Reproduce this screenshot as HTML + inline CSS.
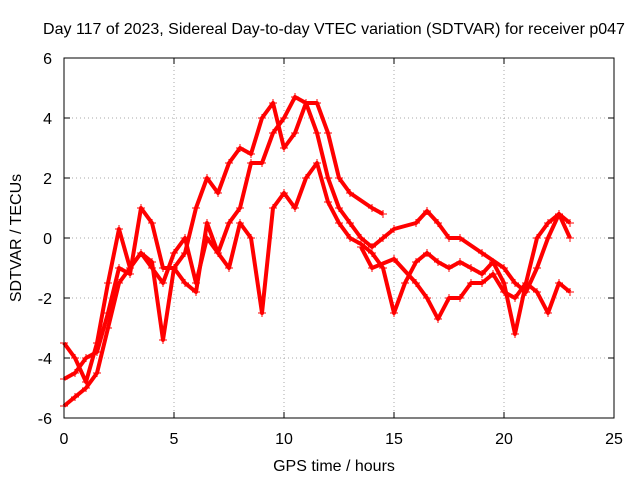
<!DOCTYPE html>
<html><head><meta charset="utf-8"><style>
body{margin:0;background:#fff;}
svg text{font-family:"Liberation Sans",sans-serif;font-size:16px;fill:#000;}
</style></head><body>
<svg id="chart" width="640" height="480">
<text x="334" y="34" text-anchor="middle">Day 117 of 2023, Sidereal Day-to-day VTEC variation (SDTVAR) for receiver p047</text>
<text x="334" y="471" text-anchor="middle">GPS time / hours</text>
<text transform="translate(21,238) rotate(-90)" text-anchor="middle">SDTVAR / TECUs</text>
<g id="grid"></g><g id="ticks"></g><g id="series"></g>
<rect x="64" y="58" width="550" height="360" fill="none" stroke="#000" stroke-width="1"/>
</svg>
<script>
const xTicks=[0,5,10,15,20,25];
const yTicks=[-6,-4,-2,0,2,4,6];
const trackA_t=[0,0.5,1,1.5,2,2.5,3,3.5,4,4.5,5,5.5,6,6.5,7,7.5,8,8.5,9,9.5,10,10.5,11,11.5,12,12.5,13,13.5,14,14.5,15,16,16.5,17,17.5,18,19,20,20.5,21,21.5,22,22.5,23];
const trackA_v=[-5.6,-5.3,-5,-4.5,-3,-1.5,-1,-0.5,-1,-1.5,-0.5,0,-1.5,0,-0.5,0.5,1,2.5,2.5,3.5,4,4.7,4.5,3.5,2,1,0.5,0,-0.3,0,0.3,0.5,0.9,0.5,0,0,-0.5,-1,-1.5,-1.8,-1,0,0.8,0.5];
const trackB_t=[0,0.5,1,1.5,2,2.5,3,3.5,4,4.5,5,5.5,6,6.5,7,7.5,8,8.5,9,9.5,10,10.5,11,11.5,12,12.5,13,14,14.5];
const trackB_v=[-4.7,-4.5,-4,-3.8,-2.5,-1,-1.2,1,0.5,-1,-1,-0.5,1,2,1.5,2.5,3,2.8,4,4.5,3,3.5,4.5,4.5,3.5,2,1.5,1,0.8];
const trackC_t=[0,0.5,1,1.5,2,2.5,3,3.5,4,4.5,5,5.5,6,6.5,7,7.5,8,8.5,9,9.5,10,10.5,11,11.5,12,12.5,13,13.5,14,14.5,15,15.5,16,16.5,17,17.5,18,18.5,19,19.5,20,20.5,21,21.5,22,22.5,23];
const trackC_v=[-3.5,-4,-4.8,-3.5,-1.5,0.3,-1,-0.5,-0.8,-3.4,-1,-1.5,-1.8,0.5,-0.5,-1,0.5,0,-2.5,1,1.5,1,2,2.5,1.2,0.5,0,-0.2,-0.5,-1,-2.5,-1.5,-0.8,-0.5,-0.8,-1,-0.8,-1,-1.2,-0.8,-1.5,-3.2,-1.5,0,0.5,0.8,0];
const trackD_t=[13.5,14,15,16,16.5,17,17.5,18,18.5,19,19.5,20,20.5,21,21.5,22,22.5,23];
const trackD_v=[-0.3,-1,-0.7,-1.5,-2,-2.7,-2,-2,-1.5,-1.5,-1.2,-1.8,-2,-1.5,-1.8,-2.5,-1.5,-1.8];
const X=h=>64+h*22, Y=v=>238-v*30;
const NS="http://www.w3.org/2000/svg";
const grid=document.getElementById('grid'),ticks=document.getElementById('ticks'),ser=document.getElementById('series');
function mk(tag,attrs,parent){const e=document.createElementNS(NS,tag);for(const k in attrs)e.setAttribute(k,attrs[k]);parent.appendChild(e);return e;}
xTicks.forEach(t=>{
  if(t>0&&t<25){const g=mk('line',{x1:X(t),x2:X(t),y1:58,y2:418,stroke:'#aaa','stroke-dasharray':'1,3'},grid);
  
  }
  mk('line',{x1:X(t),x2:X(t),y1:418,y2:412,stroke:'#000'},ticks);
  mk('line',{x1:X(t),x2:X(t),y1:58,y2:64,stroke:'#000'},ticks);
  const l=mk('text',{x:X(t),y:444,'text-anchor':'middle'},ticks);l.textContent=t;
  
  
});
yTicks.forEach(t=>{
  if(t>-6&&t<6){const g=mk('line',{x1:64,x2:614,y1:Y(t),y2:Y(t),stroke:'#aaa','stroke-dasharray':'1,3'},grid);
  
  }
  mk('line',{x1:64,x2:70,y1:Y(t),y2:Y(t),stroke:'#000'},ticks);
  mk('line',{x1:608,x2:614,y1:Y(t),y2:Y(t),stroke:'#000'},ticks);
  const l=mk('text',{x:52,y:Y(t)+6,'text-anchor':'end'},ticks);l.textContent=t;
  
  
});
function track(ts,vs,name){
  const g=mk('g',{},ser);
  
  
  mk('polyline',{points:ts.map((t,i)=>X(t)+','+Y(vs[i])).join(' '),fill:'none',stroke:'#f00','stroke-width':4,'stroke-linejoin':'round'},g);
  let d='';ts.forEach((t,i)=>{const x=X(t),y=Y(vs[i]);d+=`M${x-4},${y}h8M${x},${y-4}v8`;});
  mk('path',{d:d,stroke:'#f00','stroke-width':1},g);
}
track(trackA_t,trackA_v,'series-track-a');
track(trackB_t,trackB_v,'series-track-b');
track(trackC_t,trackC_v,'series-track-c');
track(trackD_t,trackD_v,'series-track-d');
</script>
</body></html>
